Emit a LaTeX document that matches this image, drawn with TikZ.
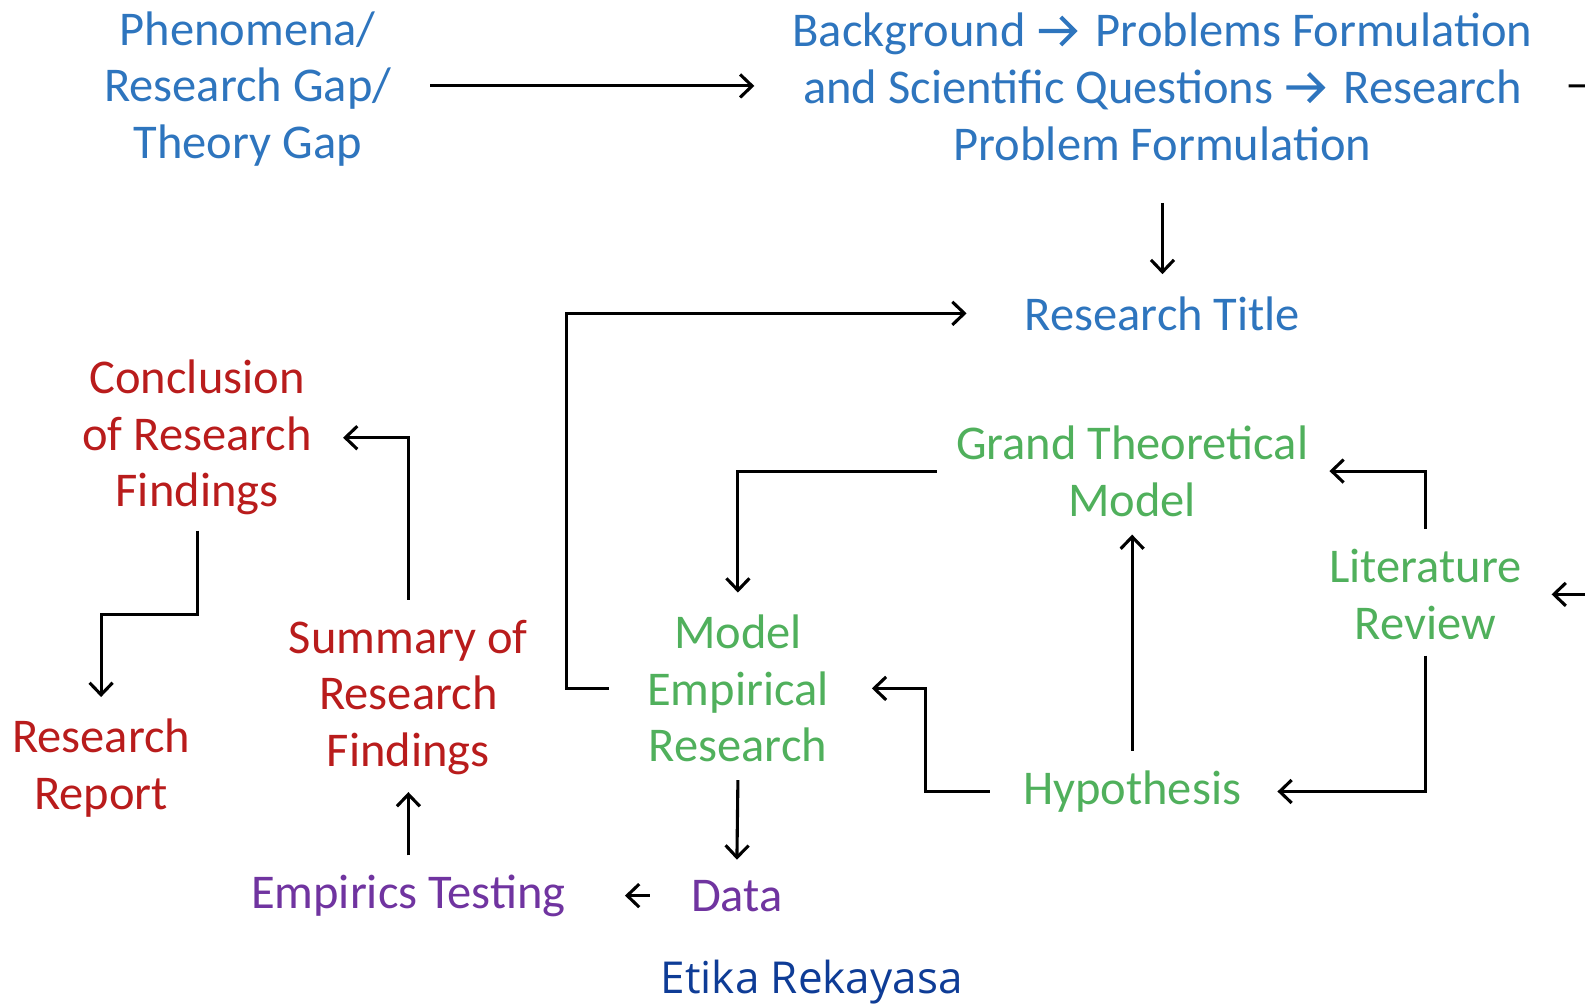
\documentclass[tikz,border=0pt]{standalone}
\usepackage{fontspec}
\setmainfont{Carlito}
\newfontfamily\etikafont{Open Sans}
\usetikzlibrary{arrows.meta}

\definecolor{topblue}{RGB}{46,117,190}
\definecolor{findred}{RGB}{185,28,28}
\definecolor{modgreen}{RGB}{80,176,92}
\definecolor{testpurple}{RGB}{112,52,160}
\definecolor{footblue}{RGB}{14,60,150}

% arrow sign inside the top text
\newcommand{\thenarrow}{\tikz[baseline=-1pt, x=1pt, y=1pt]
  \draw[topblue, line width=4.2pt, miter limit=20] (0,15)--(36,15) (22,29)--(36,15)--(22,1);}

\begin{document}
\begin{tikzpicture}[x=1.0108pt, y=-1.0108pt, >={Straight Barb[length=12pt,width=23pt]},
    txt/.style={align=center, inner sep=0pt, font=\fontsize{48.5}{56.6}\selectfont},
    conn/.style={line width=3.1pt}]
\useasboundingbox (0,0) rectangle (1568,997);

% top row
\node[txt, topblue] (phen) at (245,88) {Phenomena/\\Research Gap/\\Theory Gap};
\node[txt, topblue] (back) at (1150,86) {Background \thenarrow\,\ Problems Formulation\\and Scientific Questions \thenarrow\,\ Research\\Problem Formulation};
\node[txt, topblue] (title) at (1150,310) {Research Title};

% green part
\node[txt, modgreen] (grand) at (1120,466) {Grand Theoretical\\Model};
\node[txt, modgreen] (lit) at (1410,588) {Literature\\Review};
\node[txt, modgreen] (model) at (730,681) {Model\\Empirical\\Research};
\node[txt, modgreen] (hyp) at (1120,783) {Hypothesis};

% red part
\node[txt, findred] (concl) at (195,433) {Conclusion\\of Research\\Findings};
\node[txt, findred] (summ) at (404,690) {Summary of\\Research\\Findings};
\node[txt, findred] (report) at (100,760) {Research\\Report};

% purple part
\node[txt, testpurple] (emp) at (404,886) {Empirics Testing};
\node[txt, testpurple] (data) at (729,886) {Data};

\node[footblue, inner sep=0pt, font=\etikafont\fontsize{44}{50}\selectfont] (etika) at (803,972) {Etika Rekayasa};

\coordinate (topout) at (1570,85);
\coordinate (litin) at (1570,588);

\draw[conn,->] ([xshift=39pt, yshift=1pt]back.west -| phen.east) -- ([xshift=-38pt, yshift=1pt]back.west);
\draw[conn] ([xshift=36pt, yshift=1pt]back.east) -- (topout);
\draw[conn,->] ([yshift=-42pt]back.south) -- ([yshift=22pt]title.north);
\draw[conn,->] ([xshift=-38pt]model.west) -- ++(-42,0) |- ([xshift=-58pt]title.west);
\draw[conn,->] ([xshift=-19pt]grand.west) -| ([yshift=22pt]model.north);
\draw[conn,->] ([yshift=20pt]lit.north) |- ([xshift=21pt]grand.east);
\draw[conn,->] (litin) -- ([xshift=30pt]lit.east);
\draw[conn,->] ([yshift=-16pt]lit.south) |- ([xshift=36pt]hyp.east);
\draw[conn,->] ([yshift=20pt]hyp.north) -- ([yshift=-18pt]grand.south);
\draw[conn,->] ([xshift=-33pt]hyp.west) -- ++(-64,0) |- ([xshift=43pt]model.east);
\draw[conn,->] ([yshift=-18pt]model.south) -- ([yshift=20pt]data.north);
\draw[conn,->] ([xshift=-41pt]data.west) -- ([xshift=59pt]emp.east);
\draw[conn,->] ([yshift=19pt]emp.north) -- ([yshift=-17pt]summ.south);
\draw[conn,->] ([yshift=20pt]summ.north) |- ([xshift=31pt]concl.east);
\draw[conn,->] ([yshift=-15pt]concl.south) -- ++(0,83) -| ([yshift=22pt]report.north);

\end{tikzpicture}
\end{document}
